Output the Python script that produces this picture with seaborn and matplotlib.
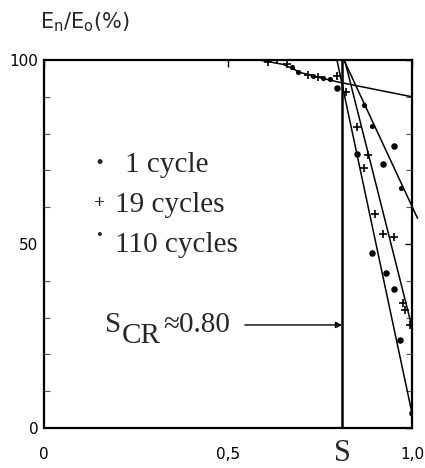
import matplotlib
matplotlib.use("Agg")
import matplotlib.pyplot as plt
import seaborn as sns
import pandas as pd
from matplotlib.ticker import MultipleLocator

# ---- data ----
s_cr = 0.81
s_one = [0.674, 0.690, 0.731, 0.758, 0.777, 0.870, 0.890, 0.970]
e_one = [98.1, 96.7, 95.7, 95.1, 94.8, 87.8, 82.0, 65.2]
s_nineteen = [0.609, 0.633, 0.660, 0.717, 0.745, 0.796, 0.820, 0.850, 0.880,
              0.870, 0.900, 0.920, 0.950, 0.976, 0.980, 0.995]
e_nineteen = [99.5, 100.0, 98.9, 95.9, 95.4, 95.7, 91.3, 81.8, 74.2,
              70.6, 58.2, 52.7, 51.9, 34.0, 32.0, 28.0]
s_hundred = [0.797, 0.850, 0.950, 0.920, 0.890, 0.930, 0.950, 0.967, 1.000]
e_hundred = [92.4, 74.5, 76.6, 71.7, 47.6, 42.1, 37.8, 23.9, 4.0]

curve_top_s = [0.585, 0.650, 0.700, 0.750, 0.800, 1.000]
curve_top_e = [100.0, 98.8, 96.5, 95.2, 94.0, 90.0]
line_b_s = [0.815, 1.015]
line_b_e = [100.0, 57.0]
line_c_s = [0.817, 1.000]
line_c_e = [100.0, 27.4]
line_d_s = [0.796, 1.000]
line_d_e = [100.0, 4.0]

legend_labels = ["1 cycle", "19 cycles", "110 cycles"]
x_ticks = [0, 0.5, 1.0]
x_tick_labels = ["0", "0,5", "1,0"]
y_ticks = [0, 50, 100]
y_tick_labels = ["0", "50", "100"]

sns.set_style("white")
plt.rcParams['font.family'] = ['DejaVu Sans']

fig = plt.figure(figsize=(4.25, 4.68), dpi=100)
ax = fig.add_axes([44/425, 1-428/468, 368/425, 368/468])

# fitted lines
for xs, ys, clip in [(curve_top_s, curve_top_e, True), (line_b_s, line_b_e, False),
                     (line_c_s, line_c_e, True), (line_d_s, line_d_e, True)]:
    df = pd.DataFrame({"S": xs, "E": ys})
    sns.lineplot(data=df, x="S", y="E", ax=ax, color="black", lw=1.1,
                 estimator=None, sort=False, clip_on=clip)

ax.axvline(s_cr, color="black", lw=1.8)

sns.scatterplot(x=s_one, y=e_one, ax=ax, color="black", marker="o", s=14,
                edgecolor="black", linewidth=0)
sns.scatterplot(x=s_nineteen, y=e_nineteen, ax=ax, color="black", marker="+", s=40,
                linewidth=1.2)
sns.scatterplot(x=s_hundred, y=e_hundred, ax=ax, color="black", marker="o", s=22,
                edgecolor="black", linewidth=0)

ax.set_xlim(0, 1.0)
ax.set_ylim(0, 100)
ax.set_xticks(x_ticks)
ax.set_xticklabels(x_tick_labels)
ax.set_yticks(y_ticks)
ax.set_yticklabels(y_tick_labels)
ax.yaxis.set_minor_locator(MultipleLocator(10))
ax.tick_params(axis="both", which="major", direction="in", length=5, width=1,
               labelsize=11, colors="black")
ax.tick_params(axis="y", which="minor", direction="in", length=4, width=0.8,
               left=True, right=True, color="#555555")
ax.tick_params(axis="x", which="major", top=True, pad=14)
ax.tick_params(axis="y", which="major", right=True, pad=4)
for sp in ax.spines.values():
    sp.set_visible(True)
    sp.set_color("black")
    sp.set_linewidth(1.6)
ax.set_xlabel("")
ax.set_ylabel("")

# axis titles
fig.text(40/425, 1-22/468, r"E$_\mathsf{n}$/E$_\mathsf{o}$(%)", fontsize=15,
         ha="left", va="center")
ax.text(s_cr, -0.068, "S", transform=ax.get_xaxis_transform(), ha="center", va="center",
        fontsize=22, family=["Liberation Serif"])

# legend drawn as text
serif = ["Liberation Serif"]
leg_y = [71.5, 60.6, 49.7]
leg_x = [0.220, 0.193, 0.193]
for lab, xx, yy in zip(legend_labels, leg_x, leg_y):
    ax.text(xx, yy, lab, fontsize=21, family=serif, ha="left", va="center")
ax.text(0.152, leg_y[0], "\u00b7", fontsize=22, family=serif, ha="center", va="center",
        fontweight="bold")
ax.text(0.150, leg_y[1] + 0.5, "+", fontsize=14, family=serif, ha="center", va="center",
        fontweight="bold")
ax.text(0.150, leg_y[2] + 2.5, "\u2022", fontsize=12, family=serif, ha="center", va="center")

# S_CR annotation (S, subscript CR, value)
ax.text(0.166, 26.1, "S", fontsize=21, family=serif, ha="left", va="baseline")
ax.text(0.212, 23.1, "CR", fontsize=21, family=serif, ha="left", va="baseline")
ax.text(0.323, 26.1, "≈0.80", fontsize=21, family=serif, ha="left", va="baseline")
ax.annotate("", xy=(s_cr, 28), xytext=(0.546, 28),
            arrowprops=dict(arrowstyle="-|>", lw=1.0, color="black",
                            mutation_scale=9, shrinkA=0, shrinkB=0))

fig.savefig("out.png", dpi=100)
